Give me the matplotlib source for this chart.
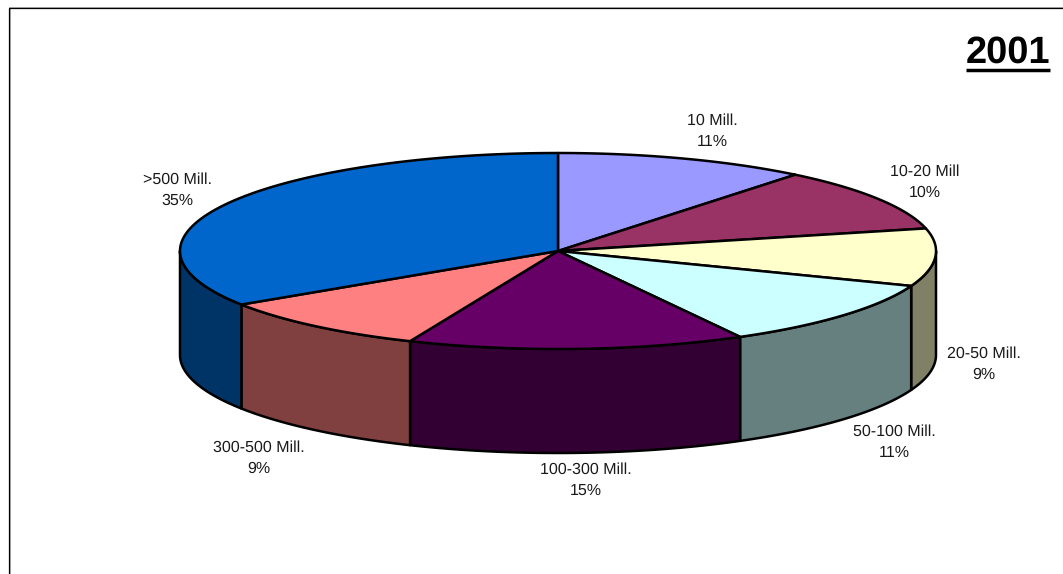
import numpy as np
import matplotlib
matplotlib.use("Agg")
import matplotlib.pyplot as plt
from matplotlib.patches import Polygon

categories = ["10 Mill.", "10-20 Mill", "20-50 Mill.", "50-100 Mill.",
              "100-300 Mill.", "300-500 Mill.", ">500 Mill."]
shares = [10.8, 10.5, 9.5, 11.2, 14.4, 9.4, 34.2]
share_labels = ["11%", "10%", "9%", "11%", "15%", "9%", "35%"]
top_colors = ["#9999FF", "#993366", "#FFFFCC", "#CCFFFF", "#660066", "#FF8080", "#0066CC"]
side_colors = ["#666699", "#662244", "#808066", "#668080", "#330033", "#804040", "#003366"]
label_pos = [(712, 131), (925, 182), (984, 364), (894, 442), (586, 480), (259, 458), (177, 190)]
title = "2001"

W, H = 1063, 574
CX, CY, RX, RY, DEPTH = 558, 251, 378, 98, 104

plt.rcParams["text.hinting"] = "no_hinting"
plt.rcParams["text.hinting_factor"] = 1

fig = plt.figure(figsize=(W / 100, H / 100), dpi=100)
ax = fig.add_axes([0, 0, 1, 1])
ax.set_xlim(0, W)
ax.set_ylim(H, 0)
ax.axis("off")

# frame (open to the right and bottom, with a faint grey edge)
ax.plot([9.9, 9.9], [H, 9], color="#b0b0b0", lw=0.7, zorder=1)
ax.plot([9, W], [7.1, 7.1], color="#b0b0b0", lw=0.7, zorder=1)
ax.plot([8.8, 8.8, W], [H, 8.2, 8.2], color="black", lw=0.9, zorder=1, solid_joinstyle="miter")


def rim(a0, a1, n=120):
    t = np.radians(np.linspace(a0, a1, n))
    return CX + RX * np.sin(t), CY - RY * np.cos(t)


edges = np.concatenate([[0], np.cumsum(shares)]) / np.sum(shares) * 360
LW = 1.8

# side walls: only the front half of the ellipse (90..270 deg clockwise from top)
for i in range(len(shares)):
    a0, a1 = max(edges[i], 90), min(edges[i + 1], 270)
    if a1 <= a0:
        continue
    x, y = rim(a0, a1)
    pts = np.r_[np.c_[x, y], np.c_[x[::-1], y[::-1] + DEPTH]]
    ax.add_patch(Polygon(pts, closed=True, fc=side_colors[i], ec="black", lw=LW,
                         joinstyle="round", zorder=2))

# top faces
for i in range(len(shares)):
    x, y = rim(edges[i], edges[i + 1])
    pts = np.r_[[[CX, CY]], np.c_[x, y]]
    ax.add_patch(Polygon(pts, closed=True, fc=top_colors[i], ec="black", lw=LW,
                         joinstyle="round", zorder=3))

# data labels
for name, pct, (lx, ly) in zip(categories, share_labels, label_pos):
    ax.text(lx, ly, f"{name}\n{pct}", ha="center", va="center", fontsize=11.3,
            family="Liberation Sans", color="#1a1a1a", linespacing=1.55, zorder=5)

# title
ax.text(1008, 53, title, ha="center", va="center", fontsize=27, fontweight="bold",
        family="Liberation Sans", color="black", zorder=5)
ax.plot([966, 1050], [70, 70], color="black", lw=2.5, solid_capstyle="butt", zorder=5)

fig.savefig("out.png", dpi=100, facecolor="white")
